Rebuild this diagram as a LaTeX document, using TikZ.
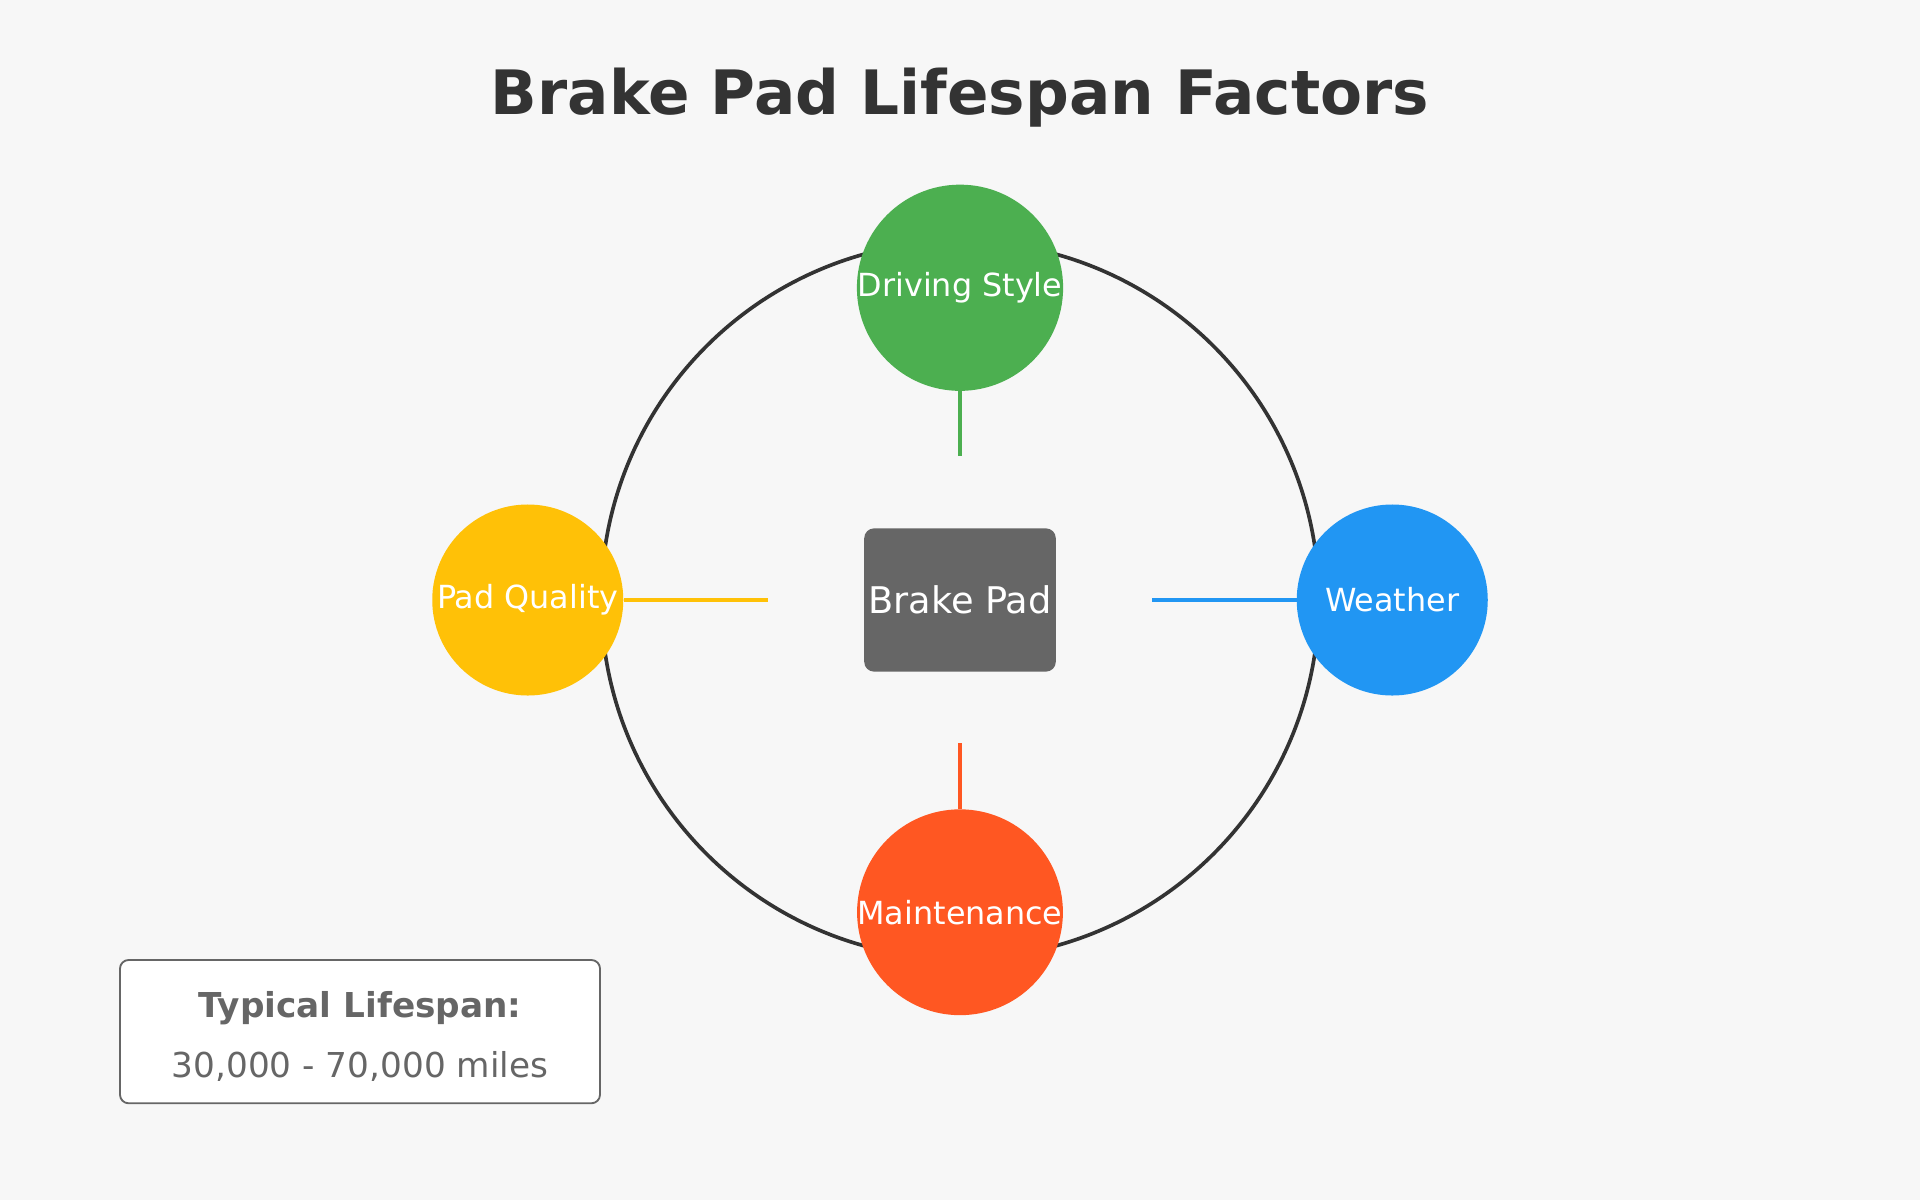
\documentclass[tikz,border=0pt]{standalone}
\usepackage{fontspec}
\setmainfont{DejaVu Sans}
\begin{document}
\begin{tikzpicture}[x=1pt,y=-1pt,
  factor/.style={circle,minimum size=156pt,inner sep=0pt,text=white,font=\fontsize{26}{30}\selectfont},
  link/.style={line width=3pt}]
\definecolor{bg}{HTML}{F7F7F7}
\definecolor{dark}{HTML}{333333}
\definecolor{gr}{HTML}{4CAF50}
\definecolor{ye}{HTML}{FFC107}
\definecolor{bl}{HTML}{2196F3}
\definecolor{orr}{HTML}{FF5722}
\definecolor{grey}{HTML}{666666}
\fill[bg] (0,0) rectangle (1568,980);
\useasboundingbox (0,0) rectangle (1568,980);
\node[text=dark,font=\bfseries\fontsize{50}{60}\selectfont] (title) at (784,80) {Brake Pad Lifespan Factors};
\draw[dark,line width=3pt] (784,490) circle (293);
\coordinate (gt) at (784,372);
\coordinate (ob) at (784,607);
\coordinate (yl) at (627,490);
\coordinate (br) at (941,490);
\node[factor,fill=gr] (ds) at (784,235) {Driving Style};
\node[factor,fill=orr] (mt) at (784,745) {Maintenance};
\node[factor,fill=ye] (pq) at (431,490) {Pad Quality};
\node[factor,fill=bl] (we) at (1137,490) {Weather};
\draw[link,gr] (ds) -- (gt);
\draw[link,orr] (mt) -- (ob);
\draw[link,ye] (pq) -- (yl);
\draw[link,bl] (we) -- (br);
\node[fill=grey,rounded corners=8pt,minimum width=137pt,minimum height=117pt,text=white,font=\fontsize{30}{36}\selectfont] (bp) at (784,490) {Brake Pad};
\node[draw=grey,line width=1.5pt,fill=white,rounded corners=7pt,minimum width=392pt,minimum height=117pt] (leg) at (294,842.5) {};
\node[text=grey,font=\bfseries\fontsize{28}{34}\selectfont] (l1) at (294,823) {Typical Lifespan:};
\node[text=grey,font=\fontsize{28}{34}\selectfont] (l2) at (294,871) {30,000 - 70,000 miles};
\end{tikzpicture}
\end{document}
